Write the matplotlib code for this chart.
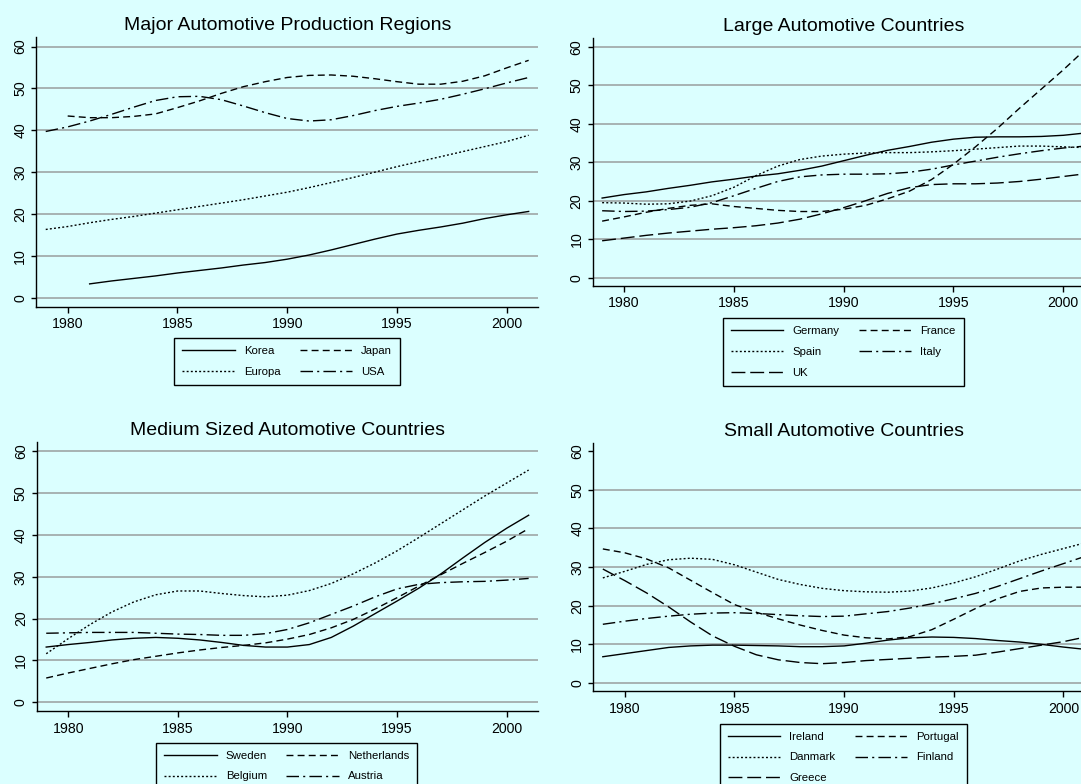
import numpy as np
import matplotlib
matplotlib.use("Agg")
import matplotlib.pyplot as plt

plt.rcParams['font.family'] = ['Liberation Sans', 'DejaVu Sans']

years = list(range(1979, 2002))

# Major regions
korea = [None, None, 3.3, 4.0, 4.6, 5.2, 5.9, 6.5, 7.1, 7.8, 8.4, 9.2, 10.2, 11.4, 12.7, 14.0,
         15.2, 16.1, 16.9, 17.8, 18.9, 19.8, 20.6]
japan = [None, 43.4, 43.0, 43.0, 43.3, 43.9, 45.4, 47.0, 48.8, 50.4, 51.6, 52.6, 53.1, 53.2, 52.9,
         52.3, 51.6, 51.0, 51.0, 51.7, 53.0, 54.9, 56.7]
europa = [16.3, 17.0, 17.9, 18.7, 19.4, 20.2, 21.0, 21.8, 22.6, 23.4, 24.3, 25.2, 26.3, 27.5, 28.7,
          30.0, 31.3, 32.5, 33.7, 34.9, 36.1, 37.3, 38.8]
usa = [39.7, 40.8, 42.2, 43.8, 45.5, 47.1, 48.0, 48.1, 47.3, 45.8, 44.2, 42.8, 42.2, 42.5, 43.5,
       44.7, 45.7, 46.5, 47.4, 48.6, 49.9, 51.3, 52.6]

# Large countries
germany = [20.7, 21.6, 22.3, 23.2, 24.0, 24.9, 25.6, 26.4, 27.0, 27.9, 29.0, 30.4, 31.8, 33.1, 34.1,
           35.2, 36.0, 36.5, 36.6, 36.6, 36.7, 37.0, 37.6]
france = [14.7, 15.8, 17.0, 18.0, 18.8, 19.2, 18.5, 18.0, 17.5, 17.2, 17.2, 17.8, 18.8, 20.5, 22.5,
          25.5, 29.5, 34.0, 38.8, 44.0, 49.0, 54.0, 59.3]
spain = [19.5, 19.4, 19.1, 19.2, 19.9, 21.3, 23.5, 26.5, 29.0, 30.7, 31.6, 32.1, 32.4, 32.5, 32.5,
         32.7, 33.0, 33.4, 33.8, 34.2, 34.2, 34.0, 33.8]
italy = [17.4, 17.2, 17.3, 17.7, 18.3, 19.5, 21.3, 23.2, 25.0, 26.2, 26.7, 26.9, 26.9, 27.0, 27.4,
         28.2, 29.3, 30.3, 31.3, 32.2, 33.0, 33.7, 34.2]
uk = [9.6, 10.3, 11.0, 11.6, 12.1, 12.6, 13.0, 13.5, 14.2, 15.2, 16.6, 18.2, 20.0, 21.9, 23.4,
      24.2, 24.4, 24.4, 24.6, 25.0, 25.6, 26.3, 27.0]

# Medium countries
sweden = [13.2, 13.8, 14.3, 14.9, 15.3, 15.5, 15.3, 14.9, 14.3, 13.6, 13.2, 13.2, 13.8, 15.5, 18.2,
          21.2, 24.2, 27.3, 30.7, 34.5, 38.2, 41.6, 44.7]
netherlands = [5.8, 7.0, 8.1, 9.2, 10.2, 11.0, 11.8, 12.5, 13.1, 13.6, 14.2, 15.1, 16.2, 17.8, 19.8,
               22.3, 25.0, 27.8, 30.5, 33.2, 35.8, 38.5, 41.5]
belgium = [11.6, 15.2, 18.6, 21.6, 24.0, 25.7, 26.6, 26.6, 26.0, 25.5, 25.2, 25.6, 26.7, 28.4, 30.7,
           33.3, 36.2, 39.4, 42.7, 46.0, 49.3, 52.4, 55.5]
austria = [16.5, 16.6, 16.7, 16.7, 16.7, 16.5, 16.3, 16.2, 16.0, 16.0, 16.4, 17.4, 19.0, 21.0, 23.0,
           25.2, 27.1, 28.2, 28.6, 28.8, 28.9, 29.2, 29.6]

# Small countries
ireland = [6.8, 7.6, 8.4, 9.2, 9.6, 9.8, 9.8, 9.7, 9.6, 9.4, 9.4, 9.6, 10.3, 11.1, 11.7,
           11.9, 11.8, 11.5, 11.0, 10.6, 10.0, 9.3, 8.7]
portugal = [34.7, 33.7, 32.1, 29.8, 26.6, 23.4, 20.3, 18.3, 16.6, 15.0, 13.6, 12.4, 11.7, 11.4, 12.0,
            13.8, 16.5, 19.3, 21.8, 23.7, 24.6, 24.8, 24.8]
danmark = [27.2, 28.9, 30.7, 31.9, 32.3, 32.0, 30.6, 28.7, 26.8, 25.5, 24.5, 23.9, 23.6, 23.5, 23.8,
           24.6, 25.9, 27.5, 29.5, 31.6, 33.3, 34.8, 36.3]
finland = [15.2, 16.0, 16.7, 17.3, 17.8, 18.1, 18.2, 18.0, 17.7, 17.4, 17.2, 17.3, 17.9, 18.5, 19.4,
           20.5, 21.8, 23.2, 25.0, 27.0, 29.0, 30.9, 32.8]
greece = [29.5, 26.5, 23.3, 19.7, 15.8, 12.2, 9.5, 7.3, 6.0, 5.3, 5.0, 5.3, 5.8, 6.1, 6.4,
          6.7, 6.9, 7.2, 8.0, 8.9, 9.8, 10.7, 11.9]

bg = '#DBFFFF'
W, H = 1081, 784

# line styles in stata order: solid, dash, dot, dash-dot, long dash
styles = ['-', (0, (5, 3)), (0, (1.4, 1.6)), (0, (9, 3, 1.5, 3)), (0, (10, 3.5))]

panels = [
    ("Major Automotive Production Regions", [36.3, 538.3, 37.3, 306.7], (287.3, 338.3),
     [("Korea", korea), ("Japan", japan), ("Europa", europa), ("USA", usa)]),
    ("Large Automotive Countries", [592.7, 1094.9, 38.3, 286.0], (843.4, 318.3),
     [("Germany", germany), ("France", france), ("Spain", spain), ("Italy", italy), ("UK", uk)]),
    ("Medium Sized Automotive Countries", [36.8, 538.3, 442.0, 711.3], (286.7, 742.7),
     [("Sweden", sweden), ("Netherlands", netherlands), ("Belgium", belgium), ("Austria", austria)]),
    ("Small Automotive Countries", [593.4, 1095.0, 442.7, 691.3], (843.2, 723.7),
     [("Ireland", ireland), ("Portugal", portugal), ("Danmark", danmark), ("Finland", finland),
      ("Greece", greece)]),
]

fig = plt.figure(figsize=(W / 100, H / 100), dpi=100, facecolor=bg)

for k, (title, (x0, x1, y0, y1), (lx, ly), series) in enumerate(panels):
    ax = fig.add_axes([x0 / W, 1 - y1 / H, (x1 - x0) / W, (y1 - y0) / H])
    ax.set_facecolor(bg)
    handles = []
    for s, (name, vals) in enumerate(series):
        v = np.array([np.nan if a is None else a for a in vals], dtype=float)
        h, = ax.plot(years, v, color='black', lw=1.0, linestyle=styles[s], label=name)
        handles.append(h)
    ax.set_xlim(1978.57, 2001.44)
    ax.set_ylim(-2.15, 62.2)
    ax.set_xticks([1980, 1985, 1990, 1995, 2000])
    ax.set_yticks([0, 10, 20, 30, 40, 50, 60])
    ax.yaxis.grid(True, color='#9EA6A6', lw=1.2)
    ax.set_axisbelow(True)
    if k == 3:
        ax.get_ygridlines()[-1].set_visible(False)
    for sp in ['top', 'right']:
        ax.spines[sp].set_visible(False)
    for sp in ['left', 'bottom']:
        ax.spines[sp].set_linewidth(1.0)
    ax.tick_params(axis='x', length=4.5, width=1.0, pad=3, labelsize=10.2)
    ax.tick_params(axis='y', length=3.5, width=1.0, pad=3, labelsize=10.2)
    for t in ax.get_yticklabels():
        t.set_rotation(90)
        t.set_va('center')
    ax.set_title(title, fontsize=14, pad=5)

    # legend: row-wise order as in the reference
    n = len(handles)
    order = [0, 2, 4, 1, 3] if n == 5 else [0, 2, 1, 3]
    leg = fig.legend([handles[i] for i in order], [handles[i].get_label() for i in order],
                     loc='upper center', bbox_to_anchor=(lx / W, 1 - ly / H),
                     bbox_transform=fig.transFigure, ncol=2, fontsize=8.2,
                     handlelength=4.6, handletextpad=0.8, columnspacing=1.7,
                     labelspacing=0.95, borderpad=0.7, borderaxespad=0,
                     fancybox=False, framealpha=1)
    leg.get_frame().set_edgecolor('black')
    leg.get_frame().set_linewidth(1.0)
    leg.get_frame().set_facecolor(bg)

fig.savefig('out.png', dpi=100, facecolor=bg)
